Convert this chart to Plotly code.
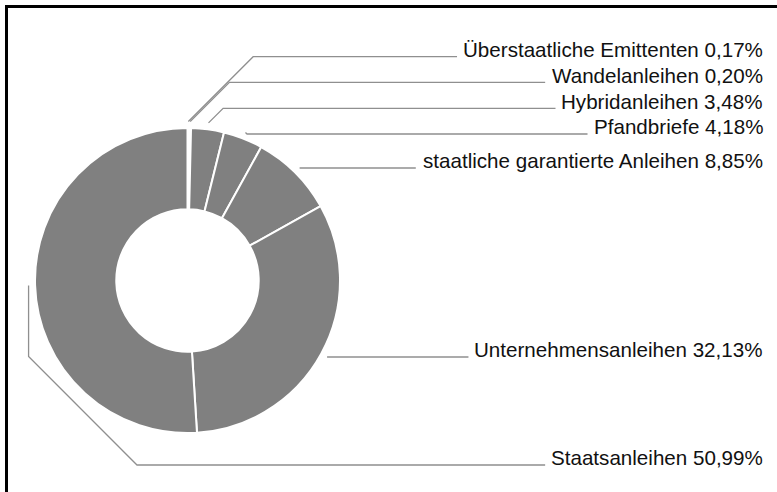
import plotly.graph_objects as go
import math

# ---- data ----
categories = [
    "Überstaatliche Emittenten",
    "Wandelanleihen",
    "Hybridanleihen",
    "Pfandbriefe",
    "staatliche garantierte Anleihen",
    "Unternehmensanleihen",
    "Staatsanleihen",
]
shares = [0.17, 0.20, 3.48, 4.18, 8.85, 32.13, 50.99]

# ---- layout constants (pixels) ----
W, H = 777, 492
pie_cx, pie_cy, pie_r = 187.5, 280.5, 152.5
hole = 0.467
label_right_px = 764
label_baseline_px = [56.7, 82.3, 108.3, 134.0, 168.0, 357.0, 465.0]
knee_x_override = {6: 137.0}      # label index -> x where diagonal ends
anchor_gap = 6.5
text_gap = 7
font_size = 20.6
line_color = "#8f8f8f"
slice_color = "#808080"

def X(px):
    return px / W

def Y(py):
    return 1 - py / H

# Arial / Liberation Sans advance widths (per 1000 em)
CW = {" ": 278, "%": 889, ",": 278, "A": 667, "E": 667, "H": 722, "P": 667,
      "S": 667, "U": 722, "Ü": 722, "W": 944, "a": 556, "b": 556, "c": 500,
      "d": 556, "e": 556, "f": 278, "g": 556, "h": 556, "i": 222, "l": 222,
      "m": 833, "n": 556, "p": 556, "r": 333, "s": 500, "t": 278, "y": 500,
      "u": 556}
for dgt in "0123456789":
    CW[dgt] = 556

def text_width(s):
    return sum(CW.get(ch, 556) for ch in s) * font_size / 1000.0

labels = [f"{c} {v:.2f}".replace(".", ",") + "%" for c, v in zip(categories, shares)]

dom_x = [X(pie_cx - pie_r), X(pie_cx + pie_r)]
dom_y = [Y(pie_cy + pie_r), Y(pie_cy - pie_r)]

fig = go.Figure()
fig.add_trace(go.Pie(
    labels=categories,
    values=shares,
    sort=False,
    direction="clockwise",
    rotation=0,
    hole=hole,
    textinfo="none",
    hoverinfo="skip",
    marker=dict(colors=[slice_color] * len(shares), line=dict(color="white", width=2)),
    domain=dict(x=dom_x, y=dom_y),
    showlegend=False,
))

total = sum(shares)
shapes = []
annotations = []
cum = 0.0
for i, (lab, v) in enumerate(zip(labels, shares)):
    mid = (cum + v / 2) / total * 2 * math.pi
    cum += v
    ra = pie_r + anchor_gap
    ax = pie_cx + ra * math.sin(mid)
    ay = pie_cy - ra * math.cos(mid)
    by = label_baseline_px[i]
    tw = text_width(lab)
    tx_left = label_right_px - tw
    end_x = tx_left - text_gap
    pts = [(ax, ay)]
    dy = by - ay
    if i in knee_x_override:
        kx = knee_x_override[i]
        dxd = abs(kx - ax)
        vert = abs(dy) - dxd
        if vert > 0:
            pts.append((ax, ay + math.copysign(vert, dy)))
        pts.append((kx, by))
    else:
        if abs(dy) > 0.5:
            pts.append((ax + abs(dy), by))
        else:
            pts[0] = (ax, by)
    pts.append((end_x, by))
    path = "M " + " L ".join(f"{X(px):.5f},{Y(py):.5f}" for px, py in pts)
    shapes.append(dict(type="path", xref="paper", yref="paper", path=path,
                       line=dict(color=line_color, width=1.3)))
    annotations.append(dict(
        x=X(label_right_px), y=Y(by - 0.34 * font_size), xref="paper", yref="paper",
        xanchor="right", yanchor="middle", text=lab, showarrow=False,
        font=dict(family="Liberation Sans, Arial, sans-serif", size=font_size, color="#111111"),
        borderpad=0,
    ))

# frame: only top and left edges are visible in the picture
shapes.append(dict(type="line", xref="paper", yref="paper",
                   x0=X(5), y0=Y(6.5), x1=1.0, y1=Y(6.5),
                   line=dict(color="black", width=3)))
shapes.append(dict(type="line", xref="paper", yref="paper",
                   x0=X(6.5), y0=Y(5), x1=X(6.5), y1=0.0,
                   line=dict(color="black", width=3)))

fig.update_layout(
    width=W, height=H,
    margin=dict(l=0, r=0, t=0, b=0),
    paper_bgcolor="white",
    plot_bgcolor="white",
    shapes=shapes,
    annotations=annotations,
    showlegend=False,
)

fig.write_html(
    "out.html",
    config={"displayModeBar": False, "staticPlot": True},
    post_script=(
        "document.documentElement.style.margin='0px';"
        "document.documentElement.style.overflow='hidden';"
        "document.body.style.margin='0px';document.body.style.overflow='hidden';"
        "document.body.style.border='none';"
    ),
)
